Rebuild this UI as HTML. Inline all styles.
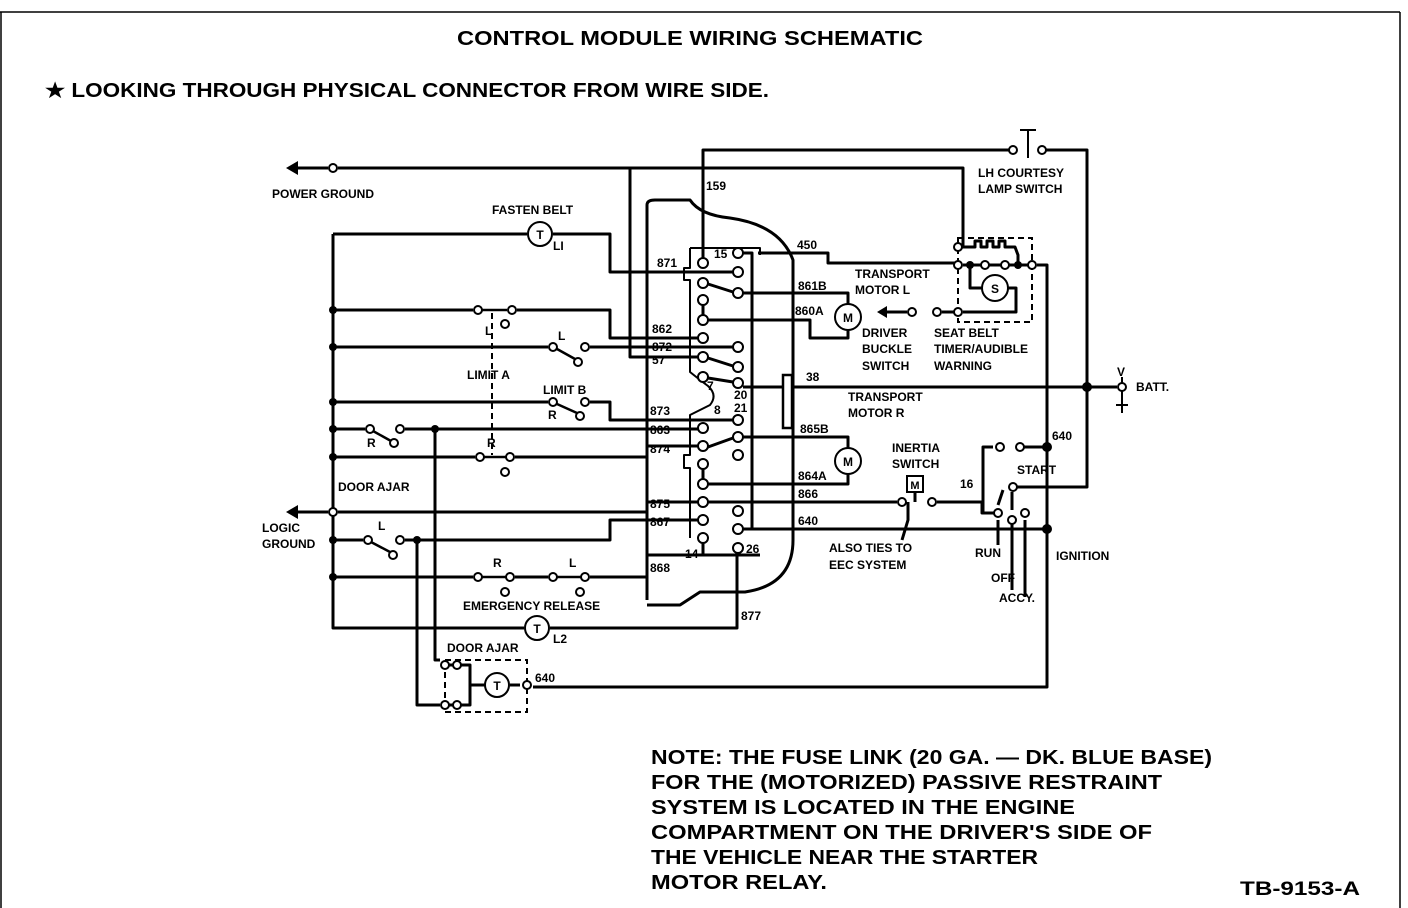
<!DOCTYPE html>
<html><head><meta charset="utf-8"><style>
html,body{margin:0;padding:0;background:#fff;}
svg{display:block;}
text{font-family:"Liberation Sans",sans-serif;font-weight:bold;fill:#000;}
.s{font-size:12px;}
</style></head><body>
<svg width="1408" height="908" viewBox="0 0 1408 908" xmlns="http://www.w3.org/2000/svg">
<g stroke="#000" stroke-width="1.5" fill="none">
<line x1="0" y1="12" x2="1400" y2="12"/>
<line x1="1" y1="12" x2="1" y2="908"/>
<line x1="1400" y1="12" x2="1400" y2="908"/>
</g>
<text x="690" y="45" font-size="20" text-anchor="middle" textLength="466" lengthAdjust="spacingAndGlyphs">CONTROL MODULE WIRING SCHEMATIC</text>
<text x="45" y="97" font-size="20" textLength="724" lengthAdjust="spacingAndGlyphs">★ LOOKING THROUGH PHYSICAL CONNECTOR FROM WIRE SIDE.</text>

<g stroke="#000" stroke-width="3" fill="none" stroke-linejoin="round">
<path d="M647,600 L647,205 Q647,200 655,200 L690,200 Q700,215 730,218 Q780,225 793,260 L793,540 Q793,585 745,592 L700,592 L680,605 L647,605"/>
<path d="M690,248 L690,268 L684,268 L684,280 L690,280 L690,372 Q700,380 708,386 Q718,395 710,405 L690,415 L690,455 L684,455 L684,468 L690,468 L690,520 L690,538" stroke-width="2"/>
<path d="M690,248 L760,248 L760,255" stroke-width="2"/>
<path d="M290,168 L328,168 M338,168 L963,168 L963,247 L957,247"/>
<path d="M703,263 L703,150 L1013,150"/>
<path d="M1042,150 L1087,150 L1087,487 L1013,487"/>
<path d="M630,168 L630,357 L703,357"/>
<path d="M333,234 L527,234 M553,234 L610,234 L610,272 L738,272"/>
<path d="M333,234 L333,628 L524,628 M550,628 L737,628 L737,550"/>
<path d="M333,310 L473,310 M517,310 L610,310 L610,338 L698,338"/>
<path d="M333,347 L548,347 M590,347 L733,347"/>
<path d="M333,402 L548,402 M590,402 L610,402 L610,420 L733,420"/>
<path d="M333,429 L365,429 M405,429 L698,429"/>
<path d="M435,429 L435,660 L440,660"/>
<path d="M333,457 L475,457 M515,457 L647,457 L647,446 L698,446"/>
<path d="M290,512 L328,512 M338,512 L647,512 L647,502 L698,502"/>
<path d="M333,540 L363,540 M405,540 L610,540 L610,520 L698,520"/>
<path d="M417,540 L417,705 L440,705"/>
<path d="M333,577 L473,577 M515,577 L548,577 M590,577 L647,577 L647,555 L703,555 L703,543"/>
<path d="M708,284 L733,292 M703,305 L703,315 M708,358 L733,366 M708,378 L733,382 M708,447 L733,438 M703,468 L703,479"/>
<path d="M743,253 L752,253 L752,529 L743,529"/>
<path d="M758,253 L828,253 L828,263 L957,263"/>
<path d="M743,293 L848,293 L848,304"/>
<path d="M708,320 L810,320 L810,338 L848,338 L848,329"/>
<path d="M743,387 L1117,387"/>
<path d="M743,437 L848,437 L848,449"/>
<path d="M708,484 L848,484 L848,474"/>
<path d="M708,502 L897,502 M937,502 L982,502 L982,513 L998,513"/>
<path d="M743,529 L1047,529"/>
<path d="M1037,265 L1047,265 L1047,687 L533,687"/>
<path d="M882,312 L907,312 M942,312 L958,312"/>
<path d="M963,247 L975,247 L975,241 L981,241 L981,247 L987,247 L987,241 L993,241 L993,247 L999,247 L999,241 L1005,241 L1005,247 L1015,247 L1018,255 L1018,265"/>
<path d="M963,265 L1032,265 M970,265 L970,288 L982,288 M1008,288 L1016,288 L1016,312 L963,312"/>
<path d="M983,512 L983,447 L993,447 M1022,447 L1047,447"/>
<path d="M998,520 L998,545 M1012,520 L1012,590 M1025,520 L1025,597"/>
<path d="M1012,492 L1012,510 M998,505 L1003,490"/>
<path d="M908,502 L908,520 L902,540 M915,492 L915,502"/>
<path d="M703,538 L703,555 L760,555"/>
<path d="M445,665 L470,665 L470,705 L445,705 M470,685 L485,685 M510,685 L520,685"/>
</g>
<!-- switch arms -->
<g stroke="#000" stroke-width="2.5" fill="none">
<path d="M482,310 L507,310 M557,349 L575,359 M557,404 L577,413 M373,431 L391,441 M484,457 L506,457 M371,542 L390,552 M482,577 L506,577 M557,577 L581,577"/>
</g>
<g stroke="#000" stroke-width="2" fill="none" stroke-dasharray="6,4">
<rect x="958" y="238" width="74" height="84"/>
<rect x="445" y="660" width="82" height="52"/>
<line x1="492" y1="313" x2="492" y2="455"/>
</g>
<g stroke="#000" stroke-width="2" fill="#fff">
<circle cx="333" cy="168" r="4"/><circle cx="333" cy="512" r="4"/>
<circle cx="738" cy="253" r="5"/><circle cx="703" cy="263" r="5"/><circle cx="738" cy="272" r="5"/>
<circle cx="703" cy="283" r="5"/><circle cx="738" cy="293" r="5"/><circle cx="703" cy="300" r="5"/>
<circle cx="703" cy="320" r="5"/><circle cx="703" cy="338" r="5"/><circle cx="738" cy="347" r="5"/>
<circle cx="703" cy="357" r="5"/><circle cx="738" cy="367" r="5"/><circle cx="703" cy="377" r="5"/>
<circle cx="738" cy="383" r="5"/><circle cx="738" cy="420" r="5"/><circle cx="703" cy="428" r="5"/>
<circle cx="738" cy="437" r="5"/><circle cx="703" cy="446" r="5"/><circle cx="738" cy="455" r="5"/>
<circle cx="703" cy="464" r="5"/><circle cx="703" cy="484" r="5"/><circle cx="703" cy="502" r="5"/>
<circle cx="738" cy="511" r="5"/><circle cx="703" cy="520" r="5"/><circle cx="738" cy="529" r="5"/>
<circle cx="703" cy="538" r="5"/><circle cx="738" cy="548" r="5"/>
<circle cx="478" cy="310" r="4"/><circle cx="512" cy="310" r="4"/><circle cx="505" cy="324" r="4"/>
<circle cx="553" cy="347" r="4"/><circle cx="585" cy="347" r="4"/><circle cx="578" cy="362" r="4"/>
<circle cx="553" cy="402" r="4"/><circle cx="585" cy="402" r="4"/><circle cx="580" cy="416" r="4"/>
<circle cx="370" cy="429" r="4"/><circle cx="400" cy="429" r="4"/><circle cx="394" cy="443" r="4"/>
<circle cx="480" cy="457" r="4"/><circle cx="510" cy="457" r="4"/><circle cx="505" cy="472" r="4"/>
<circle cx="368" cy="540" r="4"/><circle cx="400" cy="540" r="4"/><circle cx="393" cy="555" r="4"/>
<circle cx="478" cy="577" r="4"/><circle cx="510" cy="577" r="4"/><circle cx="505" cy="592" r="4"/>
<circle cx="553" cy="577" r="4"/><circle cx="585" cy="577" r="4"/><circle cx="580" cy="592" r="4"/>
<circle cx="1013" cy="150" r="4"/><circle cx="1042" cy="150" r="4"/>
<circle cx="912" cy="312" r="4"/><circle cx="937" cy="312" r="4"/><circle cx="958" cy="312" r="4"/>
<circle cx="958" cy="247" r="4"/><circle cx="958" cy="265" r="4"/><circle cx="985" cy="265" r="4"/>
<circle cx="1005" cy="265" r="4"/><circle cx="1032" cy="265" r="4"/>
<circle cx="1122" cy="387" r="4"/>
<circle cx="902" cy="502" r="4"/><circle cx="932" cy="502" r="4"/>
<circle cx="998" cy="513" r="4"/><circle cx="1013" cy="487" r="4"/><circle cx="1012" cy="520" r="4"/><circle cx="1025" cy="513" r="4"/>
<circle cx="1000" cy="447" r="4"/><circle cx="1020" cy="447" r="4"/>
<circle cx="445" cy="665" r="4"/><circle cx="445" cy="705" r="4"/><circle cx="457" cy="665" r="4"/><circle cx="457" cy="705" r="4"/><circle cx="527" cy="685" r="4"/>
<circle cx="848" cy="317" r="13"/><circle cx="848" cy="461" r="13"/><circle cx="995" cy="288" r="13"/>
<circle cx="540" cy="234" r="12"/><circle cx="537" cy="628" r="12"/><circle cx="497" cy="685" r="12"/>
</g>
<g stroke="#000" stroke-width="2">
<line x1="1028" y1="130" x2="1028" y2="158"/><line x1="1020" y1="130" x2="1036" y2="130"/>
<line x1="1122" y1="377" x2="1122" y2="383"/><line x1="1122" y1="391" x2="1122" y2="413"/>
<line x1="1116" y1="405" x2="1128" y2="405"/>
</g>
<rect x="783" y="375" width="9" height="53" fill="#fff" stroke="#000" stroke-width="2.5"/>
<rect x="907" y="476" width="16" height="16" fill="#fff" stroke="#000" stroke-width="2"/>
<g fill="#000">
<circle cx="333" cy="310" r="4"/><circle cx="333" cy="347" r="4"/><circle cx="333" cy="402" r="4"/>
<circle cx="333" cy="429" r="4"/><circle cx="333" cy="457" r="4"/><circle cx="333" cy="540" r="4"/>
<circle cx="333" cy="577" r="4"/><circle cx="435" cy="429" r="4"/><circle cx="417" cy="540" r="4"/>
<circle cx="1087" cy="387" r="5"/><circle cx="1047" cy="447" r="5"/><circle cx="1047" cy="529" r="5"/>
<circle cx="970" cy="265" r="4"/><circle cx="1018" cy="265" r="4"/>
<polygon points="286,168 298,161 298,175"/><polygon points="286,512 298,505 298,519"/>
<polygon points="877,312 887,306 887,318"/>
</g>
<g class="s" text-anchor="middle">
<text x="848" y="322">M</text><text x="848" y="466">M</text><text x="995" y="293">S</text>
<text x="540" y="239">T</text><text x="537" y="633">T</text><text x="497" y="690">T</text><text x="915" y="489" font-size="11">M</text>
</g>
<g class="s">
<text x="272" y="198">POWER GROUND</text>
<text x="492" y="214">FASTEN BELT</text>
<text x="553" y="250">LI</text>
<text x="485" y="335">L</text><text x="558" y="340">L</text>
<text x="467" y="379">LIMIT A</text><text x="543" y="394">LIMIT B</text>
<text x="548" y="419">R</text><text x="367" y="447">R</text><text x="487" y="447">R</text>
<text x="338" y="491">DOOR AJAR</text>
<text x="262" y="532">LOGIC</text><text x="262" y="548">GROUND</text>
<text x="378" y="530">L</text><text x="493" y="567">R</text><text x="569" y="567">L</text>
<text x="463" y="610">EMERGENCY RELEASE</text>
<text x="553" y="643">L2</text>
<text x="447" y="652">DOOR AJAR</text>
<text x="535" y="682">640</text>
<text x="706" y="190">159</text>
<text x="714" y="258">15</text>
<text x="657" y="267">871</text><text x="652" y="333">862</text><text x="652" y="351">872</text><text x="652" y="364">57</text>
<text x="707" y="390">7</text><text x="734" y="399">20</text><text x="714" y="414">8</text><text x="734" y="412">21</text>
<text x="650" y="415">873</text><text x="650" y="434">863</text><text x="650" y="453">874</text>
<text x="650" y="508">875</text><text x="650" y="526">867</text><text x="685" y="558">14</text><text x="746" y="553">26</text>
<text x="650" y="572">868</text><text x="741" y="620">877</text>
<text x="797" y="249">450</text><text x="798" y="290">861B</text><text x="795" y="315">860A</text>
<text x="855" y="278">TRANSPORT</text><text x="855" y="294">MOTOR L</text>
<text x="862" y="337">DRIVER</text><text x="862" y="353">BUCKLE</text><text x="862" y="370">SWITCH</text>
<text x="934" y="337">SEAT BELT</text><text x="934" y="353">TIMER/AUDIBLE</text><text x="934" y="370">WARNING</text>
<text x="978" y="177">LH COURTESY</text><text x="978" y="193">LAMP SWITCH</text>
<text x="806" y="381">38</text>
<text x="848" y="401">TRANSPORT</text><text x="848" y="417">MOTOR R</text>
<text x="800" y="433">865B</text><text x="798" y="480">864A</text><text x="798" y="498">866</text><text x="798" y="525">640</text>
<text x="892" y="452">INERTIA</text><text x="892" y="468">SWITCH</text>
<text x="829" y="552">ALSO TIES TO</text><text x="829" y="569">EEC SYSTEM</text>
<text x="1052" y="440">640</text><text x="1017" y="474">START</text><text x="960" y="488">16</text>
<text x="975" y="557">RUN</text><text x="991" y="582">OFF</text><text x="999" y="602">ACCY.</text>
<text x="1056" y="560">IGNITION</text>
<text x="1117" y="376">V</text><text x="1136" y="391">BATT.</text>
</g>
<g font-size="20" lengthAdjust="spacingAndGlyphs">
<text x="651" y="764" textLength="561" lengthAdjust="spacingAndGlyphs">NOTE: THE FUSE LINK (20 GA. — DK. BLUE BASE)</text>
<text x="651" y="789" textLength="511" lengthAdjust="spacingAndGlyphs">FOR THE (MOTORIZED) PASSIVE RESTRAINT</text>
<text x="651" y="814" textLength="424" lengthAdjust="spacingAndGlyphs">SYSTEM IS LOCATED IN THE ENGINE</text>
<text x="651" y="839" textLength="501" lengthAdjust="spacingAndGlyphs">COMPARTMENT ON THE DRIVER'S SIDE OF</text>
<text x="651" y="864" textLength="387" lengthAdjust="spacingAndGlyphs">THE VEHICLE NEAR THE STARTER</text>
<text x="651" y="889" textLength="176" lengthAdjust="spacingAndGlyphs">MOTOR RELAY.</text>
<text x="1240" y="895" font-size="19" textLength="120" lengthAdjust="spacingAndGlyphs">TB-9153-A</text>
</g>
</svg>
</body></html>
